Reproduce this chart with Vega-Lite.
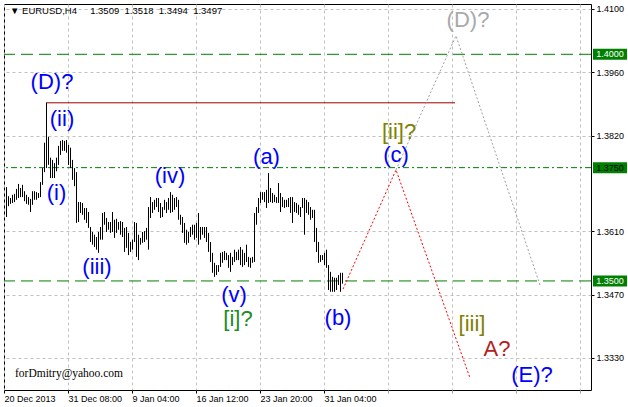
{
  "$schema": "https://vega.github.io/schema/vega-lite/v6.json",
  "width": 587,
  "height": 386,
  "autosize": {"type": "none"},
  "padding": {"left": 4, "top": 4, "right": 37, "bottom": 17},
  "background": "white",
  "config": {"view": {"stroke": "black", "strokeWidth": 1}, "font": "Liberation Sans"},
  "title": {
    "text": "▼ EURUSD,H4\u00a0\u00a0\u00a0\u00a0\u00a01.3509\u00a0\u00a01.3518\u00a0\u00a01.3494\u00a0\u00a01.3497",
    "anchor": "start", "frame": "group", "orient": "top", "offset": -8, "baseline": "middle", "dy": 8,
    "dx": 6, "font": "Liberation Sans", "fontSize": 9.5, "fontWeight": "normal", "color": "black"
  },
  "datasets": {
    "bars": [
      {"i":1,"h":1.3707,"l":1.3641},{"i":2,"h":1.3687,"l":1.3665},{"i":3,"h":1.3683,"l":1.3670},{"i":4,"h":1.3690,"l":1.3672},
      {"i":5,"h":1.3692,"l":1.3674},{"i":6,"h":1.3703,"l":1.3679},{"i":7,"h":1.3714,"l":1.3683},{"i":8,"h":1.3705,"l":1.3685},
      {"i":9,"h":1.3712,"l":1.3685},{"i":10,"h":1.3698,"l":1.3676},{"i":11,"h":1.3690,"l":1.3670},{"i":12,"h":1.3685,"l":1.3668},
      {"i":13,"h":1.3681,"l":1.3652},{"i":14,"h":1.3698,"l":1.3668},{"i":15,"h":1.3698,"l":1.3679},{"i":16,"h":1.3696,"l":1.3679},
      {"i":17,"h":1.3694,"l":1.3683},{"i":18,"h":1.3718,"l":1.3685},{"i":19,"h":1.3749,"l":1.3712},{"i":20,"h":1.3805,"l":1.3740},
      {"i":21,"h":1.3893,"l":1.3749},{"i":22,"h":1.3818,"l":1.3756},{"i":23,"h":1.3772,"l":1.3727},{"i":24,"h":1.3767,"l":1.3727},
      {"i":25,"h":1.3760,"l":1.3727},{"i":26,"h":1.3772,"l":1.3742},{"i":27,"h":1.3798,"l":1.3756},{"i":28,"h":1.3809,"l":1.3778},
      {"i":29,"h":1.3811,"l":1.3787},{"i":30,"h":1.3809,"l":1.3787},{"i":31,"h":1.3811,"l":1.3783},{"i":32,"h":1.3800,"l":1.3756},
      {"i":33,"h":1.3794,"l":1.3749},{"i":34,"h":1.3767,"l":1.3723},{"i":35,"h":1.3749,"l":1.3709},{"i":36,"h":1.3740,"l":1.3628},
      {"i":37,"h":1.3674,"l":1.3630},{"i":38,"h":1.3674,"l":1.3650},{"i":39,"h":1.3672,"l":1.3646},{"i":40,"h":1.3661,"l":1.3635},
      {"i":41,"h":1.3661,"l":1.3628},{"i":42,"h":1.3652,"l":1.3617},{"i":43,"h":1.3619,"l":1.3586},{"i":44,"h":1.3608,"l":1.3580},
      {"i":45,"h":1.3602,"l":1.3575},{"i":46,"h":1.3597,"l":1.3569},{"i":47,"h":1.3608,"l":1.3562},{"i":48,"h":1.3619,"l":1.3591},
      {"i":49,"h":1.3650,"l":1.3591},{"i":50,"h":1.3652,"l":1.3624},{"i":51,"h":1.3639,"l":1.3608},{"i":52,"h":1.3630,"l":1.3613},
      {"i":53,"h":1.3630,"l":1.3606},{"i":54,"h":1.3652,"l":1.3608},{"i":55,"h":1.3635,"l":1.3595},{"i":56,"h":1.3637,"l":1.3606},
      {"i":57,"h":1.3630,"l":1.3613},{"i":58,"h":1.3632,"l":1.3602},{"i":59,"h":1.3630,"l":1.3597},{"i":60,"h":1.3617,"l":1.3564},
      {"i":61,"h":1.3619,"l":1.3573},{"i":62,"h":1.3606,"l":1.3557},{"i":63,"h":1.3586,"l":1.3564},{"i":64,"h":1.3591,"l":1.3569},
      {"i":65,"h":1.3630,"l":1.3586},{"i":66,"h":1.3628,"l":1.3553},{"i":67,"h":1.3602,"l":1.3546},{"i":68,"h":1.3595,"l":1.3580},
      {"i":69,"h":1.3608,"l":1.3584},{"i":70,"h":1.3610,"l":1.3586},{"i":71,"h":1.3617,"l":1.3591},{"i":72,"h":1.3663,"l":1.3569},
      {"i":73,"h":1.3685,"l":1.3639},{"i":74,"h":1.3674,"l":1.3650},{"i":75,"h":1.3679,"l":1.3657},{"i":76,"h":1.3683,"l":1.3663},
      {"i":77,"h":1.3683,"l":1.3652},{"i":78,"h":1.3672,"l":1.3639},{"i":79,"h":1.3663,"l":1.3641},{"i":80,"h":1.3679,"l":1.3657},
      {"i":81,"h":1.3674,"l":1.3650},{"i":82,"h":1.3683,"l":1.3657},{"i":83,"h":1.3696,"l":1.3650},{"i":84,"h":1.3690,"l":1.3652},
      {"i":85,"h":1.3683,"l":1.3657},{"i":86,"h":1.3685,"l":1.3663},{"i":87,"h":1.3679,"l":1.3635},{"i":88,"h":1.3646,"l":1.3624},
      {"i":89,"h":1.3641,"l":1.3606},{"i":90,"h":1.3628,"l":1.3584},{"i":91,"h":1.3613,"l":1.3580},{"i":92,"h":1.3608,"l":1.3584},
      {"i":93,"h":1.3619,"l":1.3597},{"i":94,"h":1.3624,"l":1.3602},{"i":95,"h":1.3624,"l":1.3591},{"i":96,"h":1.3628,"l":1.3595},
      {"i":97,"h":1.3650,"l":1.3580},{"i":98,"h":1.3619,"l":1.3591},{"i":99,"h":1.3619,"l":1.3602},{"i":100,"h":1.3619,"l":1.3595},
      {"i":101,"h":1.3619,"l":1.3586},{"i":102,"h":1.3606,"l":1.3564},{"i":103,"h":1.3586,"l":1.3542},{"i":104,"h":1.3562,"l":1.3518},
      {"i":105,"h":1.3540,"l":1.3509},{"i":106,"h":1.3535,"l":1.3513},{"i":107,"h":1.3535,"l":1.3520},{"i":108,"h":1.3562,"l":1.3531},
      {"i":109,"h":1.3564,"l":1.3540},{"i":110,"h":1.3566,"l":1.3546},{"i":111,"h":1.3562,"l":1.3546},{"i":112,"h":1.3557,"l":1.3529},
      {"i":113,"h":1.3562,"l":1.3520},{"i":114,"h":1.3553,"l":1.3535},{"i":115,"h":1.3569,"l":1.3542},{"i":116,"h":1.3564,"l":1.3546},
      {"i":117,"h":1.3569,"l":1.3546},{"i":118,"h":1.3575,"l":1.3535},{"i":119,"h":1.3569,"l":1.3531},{"i":120,"h":1.3562,"l":1.3535},
      {"i":121,"h":1.3580,"l":1.3542},{"i":122,"h":1.3553,"l":1.3531},{"i":123,"h":1.3551,"l":1.3529},{"i":124,"h":1.3553,"l":1.3540},
      {"i":125,"h":1.3650,"l":1.3542},{"i":126,"h":1.3663,"l":1.3624},{"i":127,"h":1.3683,"l":1.3650},{"i":128,"h":1.3696,"l":1.3672},
      {"i":129,"h":1.3696,"l":1.3679},{"i":130,"h":1.3696,"l":1.3674},{"i":131,"h":1.3701,"l":1.3661},{"i":132,"h":1.3738,"l":1.3672},
      {"i":133,"h":1.3705,"l":1.3674},{"i":134,"h":1.3694,"l":1.3672},{"i":135,"h":1.3690,"l":1.3674},{"i":136,"h":1.3685,"l":1.3672},
      {"i":137,"h":1.3716,"l":1.3672},{"i":138,"h":1.3694,"l":1.3652},{"i":139,"h":1.3685,"l":1.3663},{"i":140,"h":1.3679,"l":1.3661},
      {"i":141,"h":1.3679,"l":1.3663},{"i":142,"h":1.3683,"l":1.3663},{"i":143,"h":1.3685,"l":1.3650},{"i":144,"h":1.3685,"l":1.3628},
      {"i":145,"h":1.3674,"l":1.3652},{"i":146,"h":1.3672,"l":1.3650},{"i":147,"h":1.3668,"l":1.3646},{"i":148,"h":1.3663,"l":1.3641},
      {"i":149,"h":1.3683,"l":1.3661},{"i":150,"h":1.3683,"l":1.3602},{"i":151,"h":1.3679,"l":1.3650},{"i":152,"h":1.3674,"l":1.3646},
      {"i":153,"h":1.3663,"l":1.3635},{"i":154,"h":1.3657,"l":1.3639},{"i":155,"h":1.3657,"l":1.3586},{"i":156,"h":1.3617,"l":1.3564},
      {"i":157,"h":1.3586,"l":1.3540},{"i":158,"h":1.3557,"l":1.3542},{"i":159,"h":1.3557,"l":1.3546},{"i":160,"h":1.3562,"l":1.3535},
      {"i":161,"h":1.3569,"l":1.3529},{"i":162,"h":1.3535,"l":1.3480},{"i":163,"h":1.3520,"l":1.3476},{"i":164,"h":1.3509,"l":1.3476},
      {"i":165,"h":1.3507,"l":1.3476},{"i":166,"h":1.3507,"l":1.3480},{"i":167,"h":1.3513,"l":1.3491},{"i":168,"h":1.3518,"l":1.3476},
      {"i":169,"h":1.3518,"l":1.3494}
    ],
    "levels": [{"level": 1.4}, {"level": 1.375}, {"level": 1.35}],
    "redPath": [{"i": 169.5, "p": 1.3482}, {"i": 196, "p": 1.3745}, {"i": 233, "p": 1.3286}],
    "grayPath": [{"i": 196, "p": 1.3745}, {"i": 226, "p": 1.4041}, {"i": 268, "p": 1.3491}],
    "notes": [
      {"t": "(D)?", "i": 24, "p": 1.3939, "deg": "intermediate"},
      {"t": "(ii)", "i": 29, "p": 1.3857, "deg": "minuette"},
      {"t": "(i)", "i": 26.25, "p": 1.3693, "deg": "minuette"},
      {"t": "(iii)", "i": 46.5, "p": 1.3531, "deg": "minuette"},
      {"t": "(iv)", "i": 83, "p": 1.3732, "deg": "minuette"},
      {"t": "(v)", "i": 115, "p": 1.3469, "deg": "minuette"},
      {"t": "[i]?", "i": 117, "p": 1.3416, "deg": "minute"},
      {"t": "(a)", "i": 131.25, "p": 1.3774, "deg": "minuette"},
      {"t": "(b)", "i": 167, "p": 1.3418, "deg": "minuette"},
      {"t": "[ii]?", "i": 197.5, "p": 1.3828, "deg": "minute"},
      {"t": "(c)", "i": 196, "p": 1.3777, "deg": "minuette"},
      {"t": "[iii]", "i": 234, "p": 1.3405, "deg": "minute"},
      {"t": "A?", "i": 246.5, "p": 1.335, "deg": "minor"},
      {"t": "(E)?", "i": 264, "p": 1.3293, "deg": "intermediate"},
      {"t": "(D)?", "i": 232, "p": 1.4076, "deg": "alternate"}
    ]
  },
  "layer": [
    {
      "data": {"name": "levels"},
      "mark": {"type": "rule", "color": "#008000", "strokeWidth": 1},
      "encoding": {
        "y": {"field": "level", "type": "quantitative",
          "scale": {"domain": [1.32594, 1.4111], "nice": false, "zero": false},
          "axis": {"orient": "right", "values": [1.41, 1.403, 1.396, 1.389, 1.382, 1.368, 1.361, 1.354, 1.347, 1.34, 1.333],
            "format": ".4f", "title": null, "grid": true, "gridColor": "#c0c0c0", "gridDash": [3, 3], "domain": false,
            "tickSize": 3, "tickColor": "black", "labelFont": "Liberation Sans", "labelFontSize": 9, "labelColor": "black",
            "labelPadding": 2, "labelBaseline": "middle", "labelFlush": false, "labelOverlap": false, "labelBound": false}},
        "strokeDash": {"condition": {"test": "datum.level == 1.375", "value": [6, 3, 2, 3]}, "value": [12, 6]}
      }
    },
    {
      "data": {"name": "bars"},
      "mark": {"type": "rule", "color": "black", "strokeWidth": 1, "xOffset": 0.5},
      "encoding": {
        "x": {"field": "i", "type": "quantitative",
          "scale": {"domain": [0, 293.5], "nice": false, "zero": false},
          "axis": {"orient": "bottom", "values": [0,16,32,48,64,80,96,112,128,144,160,176,192,208,224,240,256,272,288],
            "title": null, "grid": true, "gridColor": "#c0c0c0", "gridDash": [3, 3], "domain": false, "tickSize": 3,
            "tickColor": {"condition": {"test": "datum.value % 32 == 0 && datum.value <= 160", "value": "black"}, "value": "#a0a0a0"},
            "labelExpr": "datum.value==0?'20 Dec 2013':datum.value==32?'31 Dec 08:00':datum.value==64?'9 Jan 04:00':datum.value==96?'16 Jan 12:00':datum.value==128?'23 Jan 20:00':datum.value==160?'31 Jan 04:00':''",
            "labelAlign": "left", "labelFont": "Liberation Sans", "labelFontSize": 9, "labelColor": "black", "labelPadding": 1,
            "labelOverlap": false, "labelFlush": false, "labelBound": false}},
        "y": {"field": "h", "type": "quantitative"},
        "y2": {"field": "l"}
      }
    },
    {
      "data": {"values": [{"i": 21, "i2": 225.5, "p": 1.3893}]},
      "mark": {"type": "rule", "color": "#a00000", "strokeWidth": 1},
      "encoding": {
        "x": {"field": "i", "type": "quantitative"},
        "x2": {"field": "i2"},
        "y": {"field": "p", "type": "quantitative"}
      }
    },
    {
      "data": {"name": "grayPath"},
      "mark": {"type": "line", "color": "#a0a0a0", "strokeWidth": 1, "strokeDash": [2, 2]},
      "encoding": {
        "x": {"field": "i", "type": "quantitative"},
        "y": {"field": "p", "type": "quantitative"}
      }
    },
    {
      "data": {"name": "redPath"},
      "mark": {"type": "line", "color": "#ff0000", "strokeWidth": 1, "strokeDash": [2, 2]},
      "encoding": {
        "x": {"field": "i", "type": "quantitative"},
        "y": {"field": "p", "type": "quantitative"}
      }
    },
    {
      "data": {"name": "notes"},
      "mark": {"type": "text", "font": "Liberation Sans", "align": "center", "baseline": "middle"},
      "encoding": {
        "x": {"field": "i", "type": "quantitative"},
        "y": {"field": "p", "type": "quantitative"},
        "text": {"field": "t"},
        "color": {
          "condition": {"test": "datum.t == '[i]?'", "value": "#228b22"},
          "field": "deg", "type": "nominal",
          "scale": {"domain": ["intermediate", "alternate", "minor", "minute", "minuette"],
                    "range": ["#0000ff", "#a9a9a9", "#b22222", "#808000", "#0000ff"]},
          "legend": null},
        "size": {"field": "deg", "type": "ordinal",
          "scale": {"domain": ["intermediate", "alternate", "minor", "minute", "minuette"], "range": [22, 22, 20, 17, 17]},
          "legend": null}
      }
    },
    {
      "data": {"values": [{"t": "forDmitry@yahoo.com", "i": 5.5, "p": 1.3295}]},
      "mark": {"type": "text", "font": "Liberation Serif", "fontSize": 11.5, "align": "left", "baseline": "middle", "color": "black"},
      "encoding": {
        "x": {"field": "i", "type": "quantitative"},
        "y": {"field": "p", "type": "quantitative"},
        "text": {"field": "t"}
      }
    },
    {
      "data": {"name": "levels"},
      "mark": {"type": "tick", "orient": "horizontal", "size": 34, "thickness": 11, "color": "#008000", "opacity": 1, "clip": false},
      "encoding": {
        "x": {"datum": 303},
        "y": {"field": "level", "type": "quantitative"}
      }
    },
    {
      "data": {"name": "levels"},
      "mark": {"type": "text", "align": "center", "baseline": "middle", "fontSize": 9, "font": "Liberation Sans", "clip": false},
      "encoding": {
        "x": {"datum": 303},
        "y": {"field": "level", "type": "quantitative"},
        "text": {"field": "level", "type": "quantitative", "format": ".4f"},
        "color": {"condition": {"test": "datum.level == 1.375", "value": "black"}, "value": "white"}
      }
    }
  ]
}
